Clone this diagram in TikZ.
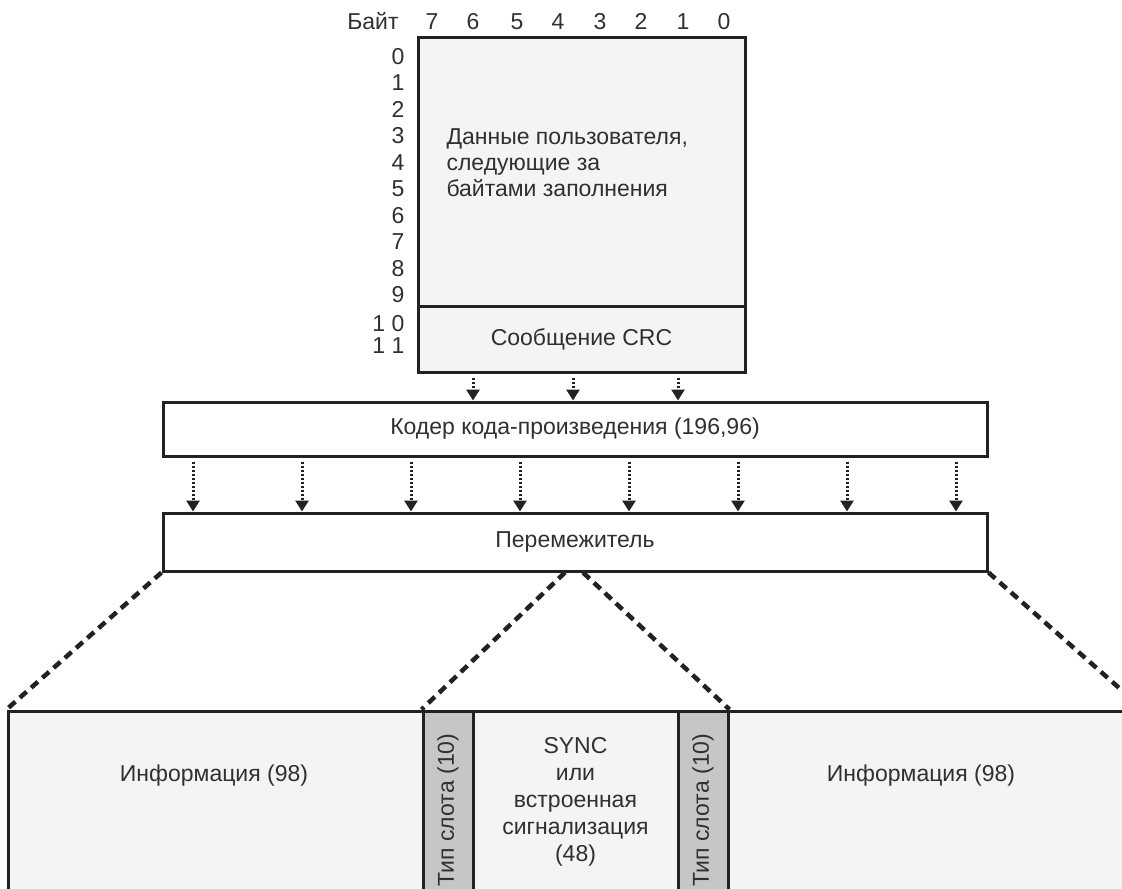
\documentclass[tikz,border=0pt]{standalone}
\usepackage{fontspec}
\setmainfont{Liberation Sans}
\usetikzlibrary{arrows.meta,calc}
\definecolor{ink}{HTML}{222222}
\definecolor{txt}{HTML}{303030}
\definecolor{paper}{HTML}{F4F4F4}
\definecolor{slotgray}{HTML}{C6C6C6}
\begin{document}
\begin{tikzpicture}[x=1pt,y=-1pt,
  every node/.style={text=txt, font=\fontsize{23}{27}\selectfont},
  box/.style={draw=ink, line width=3pt, inner sep=0pt, rectangle},
  arr/.style={draw=ink, line width=3pt, dash pattern=on 2.5pt off 1.5pt, -{Triangle[length=11pt,width=13pt]}},
  split/.style={draw=ink, line width=4.5pt, dash pattern=on 9pt off 6pt}]
\useasboundingbox (0,0) rectangle (1122,889);
\clip (0,0) rectangle (1122,889);
% top block
\node[box, fill=paper, minimum width=327pt, minimum height=270pt] (data) at (581.5,172) {};
\node[box, fill=paper, minimum width=327pt, minimum height=66pt] (crc) at (581.5,339) {Сообщение CRC};
\node[anchor=west, align=left, font=\fontsize{23}{26}\selectfont] (dtext) at (443,163) {Данные пользователя,\\следующие за\\байтами заполнения};
% header
\node[anchor=base] (byte) at (373,29) {Байт};
\foreach \d/\x in {7/432,6/473,5/517,4/558,3/600,2/641,1/683,0/724}
  \node[anchor=base] (b\d) at (\x,29) {\d};
\foreach \r in {0,...,9}
  \node[anchor=base east] (r\r) at (408,64+26.5*\r) {\r};
\node[anchor=base east] (r10) at (408,331) {1 0};
\node[anchor=base east] (r11) at (408,353) {1 1};
% coder and interleaver
\node[box, fill=white, minimum width=824pt, minimum height=54pt] (coder) at (575,429) {Кодер кода-произведения (196,96)};
\node[box, fill=white, minimum width=824pt, minimum height=58pt] (inter) at (575,542) {Перемежитель};
\foreach \x in {473,573,678}
  \draw[arr] ($(crc.south -| \x,0)+(0,4)$) -- (coder.north -| \x,0);
\foreach \x in {193,302,411,520,629,738,847,956}
  \draw[arr] ($(coder.south -| \x,0)+(0,4)$) -- (inter.north -| \x,0);
% bottom frame
\node[box, fill=paper, minimum width=415pt, minimum height=189pt] (infoL) at (215.5,805.5) {};
\node[box, fill=slotgray, minimum width=50pt, minimum height=189pt] (slotL) at (448,805.5) {};
\node[box, fill=paper, minimum width=205pt, minimum height=189pt] (mid) at (575.5,805.5) {};
\node[box, fill=slotgray, minimum width=50pt, minimum height=189pt] (slotR) at (703,805.5) {};
\node[box, fill=paper, minimum width=414pt, minimum height=189pt] (infoR) at (935,805.5) {};
\node (infoLtext) at (214,776) {Информация (98)};
\node (infoRtext) at (921,776) {Информация (98)};
\node[align=center, font=\fontsize{23}{27}\selectfont] (midtext) at (575.5,802) {SYNC\\или\\встроенная\\сигнализация\\(48)};
\node[rotate=90] (slotLtext) at (448,810) {Тип слота (10)};
\node[rotate=90] (slotRtext) at (703,810) {Тип слота (10)};
% dashed expansion lines
\draw[split] (inter.south west) -- (infoL.north west);
\draw[split] (inter.south -| 565,0) -- (slotL.north west);
\draw[split] (inter.south -| 583,0) -- (slotR.north east);
\draw[split] (inter.south east) -- (infoR.north east);
\end{tikzpicture}
\end{document}
